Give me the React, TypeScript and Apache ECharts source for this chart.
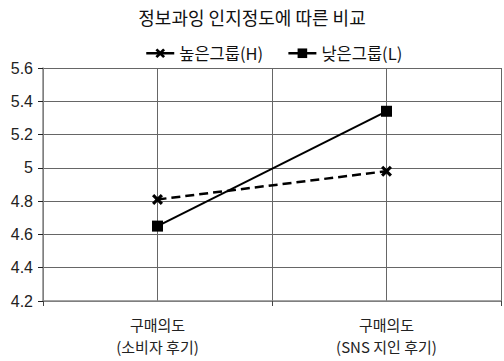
import React, { useEffect, useRef } from "react";
import * as echarts from "echarts";

const title = "정보과잉 인지정도에 따른 비교";
const categoryLine1 = ["", "구매의도", "", "구매의도", ""];
const categoryLine2 = ["", "(소비자 후기)", "", "(SNS 지인 후기)", ""];
const seriesNames = ["높은그룹(H)", "낮은그룹(L)"];
const highValues = [null, 4.81, null, 4.98, null];
const lowValues = [null, 4.65, null, 5.34, null];
const yMin = 4.2;
const yMax = 5.6;
const yInterval = 0.2;

const crossPath =
  "path://M2,0 L5,3 L8,0 L10,2 L7,5 L10,8 L8,10 L5,7 L2,10 L0,8 L3,5 L0,2 Z";

export default function App() {
  const ref = useRef<HTMLDivElement>(null);
  useEffect(() => {
    const chart = echarts.init(ref.current!, undefined, { renderer: "svg" });
    const font = "'Noto Sans CJK KR', 'Noto Sans', sans-serif";
    const numFont = "'Liberation Sans', Arial, sans-serif";
    chart.setOption({
      animation: false,
      textStyle: { fontFamily: font },
      title: {
        text: title,
        left: "center",
        top: 3,
        textStyle: { fontSize: 18, fontWeight: "normal", color: "#111", fontFamily: font },
      },
      legend: {
        top: 40,
        left: 140,
        itemWidth: 28,
        itemHeight: 12,
        itemGap: 24,
        textStyle: { fontSize: 16.5, color: "#111", fontFamily: font },
        data: [
          { name: seriesNames[0], lineStyle: { type: "solid", width: 2.5 } },
          { name: seriesNames[1], lineStyle: { type: "solid", width: 2.5 } },
        ],
      },
      grid: { left: 43, right: 0, top: 68, bottom: 60, containLabel: false },
      xAxis: [
        {
          type: "category",
          data: categoryLine1,
          boundaryGap: false,
          axisLine: { lineStyle: { color: "#888", width: 1.5 } },
          axisTick: {
            show: true,
            length: 5,
            interval: (i: number) => i % 2 === 0,
            lineStyle: { color: "#444" },
          },
          axisLabel: {
            interval: 0,
            fontSize: 15,
            color: "#222",
            margin: 16,
            fontFamily: font,
          },
          splitLine: { show: true, lineStyle: { color: "#666", width: 1 } },
        },
        {
          type: "category",
          position: "bottom",
          data: categoryLine2,
          boundaryGap: false,
          axisLine: { show: false },
          axisTick: { show: false },
          splitLine: { show: false },
          axisLabel: {
            interval: 0,
            fontSize: 15,
            color: "#222",
            margin: 38,
            fontFamily: font,
          },
        },
      ],
      yAxis: {
        type: "value",
        min: yMin,
        max: yMax,
        interval: yInterval,
        axisLine: { show: true, lineStyle: { color: "#888", width: 1.5 } },
        axisTick: { show: true, length: 5, lineStyle: { color: "#222" } },
        axisLabel: {
          fontSize: 16,
          color: "#222",
          margin: 10,
          fontFamily: numFont,
          formatter: (v: number) => String(Math.round(v * 10) / 10),
        },
        splitLine: { show: true, lineStyle: { color: "#666", width: 1 } },
      },
      series: [
        {
          name: seriesNames[0],
          type: "line",
          data: highValues,
          connectNulls: true,
          symbol: crossPath,
          symbolSize: 11,
          itemStyle: { color: "#000" },
          lineStyle: { color: "#000", width: 2.5, type: [9, 5] },
        },
        {
          name: seriesNames[1],
          type: "line",
          data: lowValues,
          connectNulls: true,
          symbol: "rect",
          symbolSize: 11,
          itemStyle: { color: "#000" },
          lineStyle: { color: "#000", width: 2 },
        },
      ],
    });
    return () => chart.dispose();
  }, []);
  return (
    <div
      ref={ref}
      style={{ position: "fixed", left: 0, top: 0, width: 504, height: 361, background: "#fff" }}
    />
  );
}
